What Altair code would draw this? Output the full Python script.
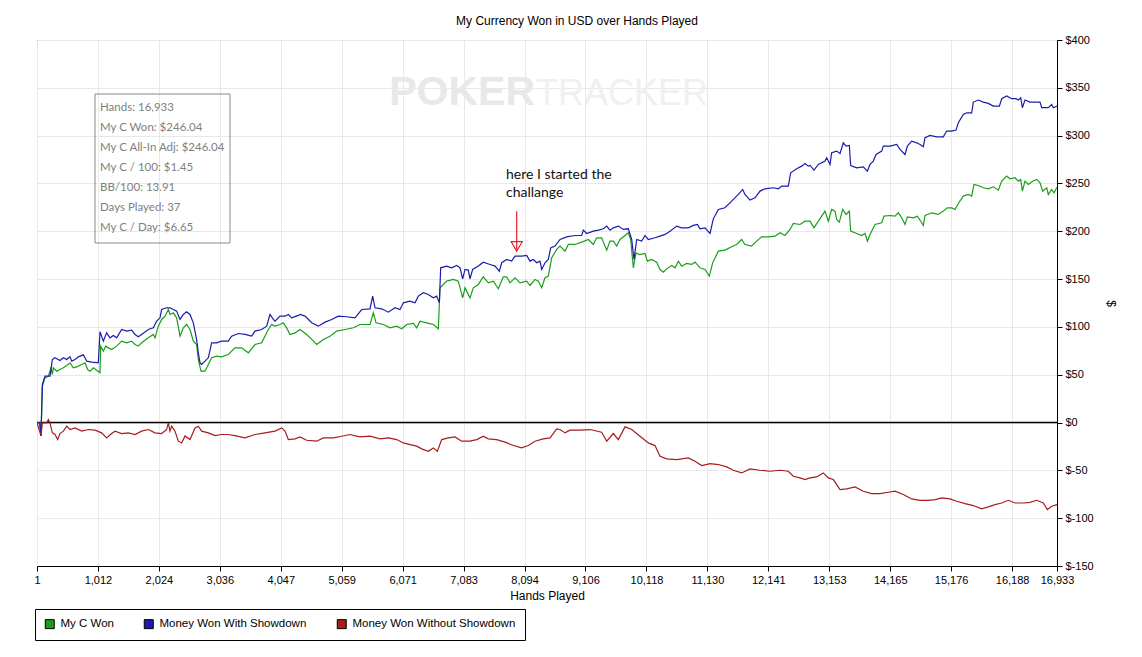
import altair as alt
import pandas as pd

FONT = "Liberation Sans"

# ---------------- data ----------------
series_names = ["My C Won", "Money Won With Showdown", "Money Won Without Showdown"]
series_colors = ["#1a9e1a", "#1c1caa", "#a81c1c"]

green_hands = [1, 45, 67, 90, 134, 189, 233, 256, 272, 328, 383, 438, 494, 549, 604, 660, 743, 798, 842, 881, 936, 1047, 1058, 1102, 1141, 1185, 1240, 1323, 1406, 1489, 1572, 1628, 1683, 1738, 1849, 1932, 1960, 2015, 2070, 2126, 2181, 2209, 2264, 2319, 2375, 2430, 2485, 2541, 2596, 2651, 2679, 2723, 2790, 2845, 2900, 2983, 3066, 3177, 3288, 3398, 3509, 3620, 3730, 3841, 3896, 3952, 4035, 4090, 4145, 4201, 4284,
               4367, 4478, 4561, 4644, 4754, 4865, 4976, 5114, 5252, 5363, 5529, 5584, 5629, 5750, 5861, 5972, 6055, 6138, 6248, 6304, 6359, 6470, 6580, 6663, 6691, 6802, 6913, 6995, 7067, 7106, 7189, 7244, 7327, 7410, 7493, 7576, 7659, 7742, 7798, 7853, 7936, 8019, 8130, 8185, 8268, 8323, 8379, 8434, 8489, 8545, 8628,
               8683, 8766, 8821, 8932, 9043, 9153, 9236, 9291, 9374, 9458, 9513, 9568, 9624, 9679, 9762, 9817, 9856, 9900, 9945, 10000, 10094, 10133, 10205, 10288, 10343, 10398, 10454, 10537, 10592, 10647, 10703, 10786, 10868, 10924, 11007, 11090, 11162, 11217, 11311, 11422, 11532, 11615, 11698, 11754, 11864, 11947, 12030, 12141, 12252, 12335, 12418, 12501, 12556, 12667, 12750,
               12833, 12899, 12971, 13082, 13137, 13193, 13248, 13276, 13320, 13375, 13431, 13486, 13508, 13608, 13691, 13746, 13785, 13829, 13912, 14023, 14061, 14161, 14244, 14299, 14355, 14410, 14449, 14549, 14615, 14687, 14714, 14742, 14853, 14963, 15046, 15113, 15185, 15240, 15295, 15378, 15461, 15517, 15555, 15627, 15710, 15793, 15876, 15959, 16015, 16098, 16153, 16236, 16291, 16330, 16358, 16402, 16457, 16529, 16596, 16651, 16695, 16762, 16789, 16844, 16883, 16933]
green_values = [0, 0, -14, 38, 46.7, 48.5, 57.2, 50.2, 57.2, 53.7, 55.4, 57.2, 59.6, 62.4, 57.2, 58.2, 60.7, 62.4, 55.4, 53.7, 57.2, 52.0, 79.9, 74.6, 79.9, 78.1, 76.4, 79.9, 85.1, 83.4, 85.1, 81.6, 79.9, 83.4, 88.6, 92.1, 88.6, 100.8, 107.8, 111.2, 118.2, 113.0, 114.7, 109.5, 90.3, 99.0, 102.5, 97.3, 85.1, 81.6, 65.9, 53.7, 53.7, 60.7, 67.7, 69.4, 68.7, 71.1, 78.1, 78.1, 72.9, 81.6, 83.4, 97.3, 102.5, 100.8, 102.5, 104.3, 99.0, 92.1, 93.8,
                97.3, 92.1, 86.9, 81.6, 86.9, 90.3, 95.6, 97.3, 99.1, 102.5, 102.5, 114.7, 104.3, 102.5, 99.1, 100.8, 98.0, 102.5, 103.6, 99.1, 106.0, 104.3, 102.5, 98.0, 140.9, 147.9, 149.6, 147.9, 130.4, 140.9, 130.4, 140.9, 144.4, 152.4, 146.1, 147.9, 139.9, 152.4, 152.4, 146.1, 151.4, 146.1, 147.9, 143.3, 149.6, 147.9, 140.9, 151.4, 153.1, 172.3, 181.0,
                184.5, 179.2, 186.2, 186.2, 188.6, 191.4, 186.2, 193.2, 193.2, 180.3, 189.7, 189.7, 184.5, 191.4, 195.6, 198.4, 191.4, 161.8, 177.5, 175.7, 176.8, 168.8, 170.5, 167.7, 160.0, 157.3, 160.7, 164.2, 161.8, 168.8, 163.5, 166.3, 165.3, 167.7, 161.8, 160.0, 153.1, 167.0, 179.2, 180.3, 183.8, 186.2, 191.4, 186.2, 184.5, 189.7, 194.2, 194.2, 194.9, 198.4, 195.6, 201.9, 208.2, 207.1, 210.6,
                210.6, 203.6, 210.6, 221.1, 210.6, 222.8, 221.1, 212.3, 209.6, 222.8, 217.6, 221.1, 200.1, 197.7, 195.6, 197.7, 189.7, 196.7, 207.1, 208.9, 215.8, 216.5, 215.8, 219.3, 214.1, 207.1, 215.1, 214.1, 215.8, 208.9, 206.1, 216.5, 219.3, 217.6, 221.1, 224.5, 224.5, 222.8, 229.1, 236.8, 238.5, 236.8, 249.0, 247.9, 245.5, 244.4, 246.5, 243.0, 252.4, 257.7, 254.9, 256.0, 252.4, 254.2, 242.0, 252.4, 249.0, 252.4, 254.2, 250.7, 242.0, 245.5, 238.5, 243.7, 240.2, 246.0]

blue_hands = [1, 45, 67, 90, 134, 217, 256, 300, 383, 438, 494, 549, 577, 632, 687, 770, 798, 826, 909, 1019, 1047, 1102, 1157, 1213, 1268, 1323, 1406, 1489, 1572, 1628, 1683, 1738, 1849, 1932, 1987, 2043, 2070, 2153, 2209, 2264, 2319, 2375, 2430, 2485, 2541, 2596, 2651, 2679, 2707, 2734, 2790, 2845, 2900, 2983, 3066, 3177, 3232, 3343, 3454, 3564, 3620, 3730, 3813, 3869, 3924, 3952, 4035, 4118, 4173, 4229, 4339,
              4367, 4450, 4561, 4671, 4782, 4893, 5003, 5142, 5280, 5391, 5529, 5573, 5612, 5723, 5833, 5944, 6027, 6082, 6193, 6276, 6331, 6414, 6497, 6580, 6636, 6680, 6702, 6802, 6885, 6968, 7023, 7067, 7106, 7161, 7189, 7233, 7327, 7410, 7521, 7604, 7676, 7715, 7798, 7880, 7936, 8047, 8130, 8185, 8240, 8296, 8351, 8379, 8434, 8489, 8528, 8600,
              8683, 8794, 8932, 9043, 9070, 9126, 9236, 9319, 9402, 9458, 9513, 9568, 9651, 9734, 9817, 9873, 9911, 9956, 10039, 10094, 10149, 10260, 10343, 10426, 10509, 10620, 10703, 10813, 10896, 10963, 11007, 11090, 11173, 11228, 11311, 11422, 11532, 11643, 11715, 11754, 11837, 11920, 12003, 12086, 12224, 12307, 12363, 12473, 12512, 12612, 12695, 12750, 12805,
              12833, 12899, 12971, 13082, 13110, 13165, 13193, 13276, 13331, 13386, 13431, 13486, 13508, 13608, 13718, 13785, 13829, 13884, 13929, 14023, 14050, 14161, 14272, 14327, 14410, 14449, 14521, 14604, 14659, 14714, 14742, 14825, 14936, 15046, 15102, 15185, 15257, 15295, 15378, 15434, 15517, 15544, 15627, 15710, 15793, 15876, 15976, 16015, 16098, 16181, 16252, 16291, 16330, 16358, 16402, 16485, 16596, 16651, 16679, 16789, 16844, 16872, 16933]
blue_values = [0, 0, -14, 40, 48.5, 48.5, 65.9, 67.7, 64.9, 67.7, 65.9, 68.7, 64.2, 65.9, 68.7, 70.8, 67.7, 64.2, 63.1, 62.4, 94.9, 85.1, 93.8, 88.6, 91.0, 88.6, 97.3, 95.6, 96.6, 92.1, 89.6, 92.1, 97.3, 99.0, 106.0, 109.5, 118.2, 120.0, 120.0, 118.2, 116.5, 107.8, 113.0, 115.8, 113.0, 104.3, 86.8, 72.9, 62.4, 60.7, 64.2, 67.7, 83.4, 83.4, 85.1, 85.1, 90.3, 93.1, 92.1, 90.3, 95.6, 97.3, 100.8, 113.0, 107.8, 106.0, 111.2, 111.2, 113.0, 109.5, 112.0,
               113.0, 111.3, 104.3, 100.8, 105.0, 107.8, 111.3, 110.6, 109.5, 118.2, 118.9, 132.2, 120.0, 118.9, 115.4, 120.0, 118.2, 125.2, 126.9, 125.2, 132.2, 135.7, 133.9, 130.4, 132.2, 125.2, 161.8, 163.6, 161.8, 164.3, 161.8, 150.3, 160.1, 159.4, 150.3, 160.1, 163.6, 167.7, 165.3, 163.6, 158.3, 167.1, 170.5, 168.8, 174.0, 174.0, 174.7, 168.8, 170.5, 167.1, 168.8, 160.1, 167.1, 170.5, 182.7, 184.5,
               191.4, 194.2, 195.6, 195.6, 201.2, 197.7, 200.1, 201.2, 202.6, 205.4, 201.2, 203.6, 205.4, 201.9, 202.6, 191.4, 170.5, 191.4, 189.7, 195.6, 191.4, 193.2, 194.9, 196.7, 200.1, 205.4, 203.6, 203.6, 206.1, 207.1, 202.6, 203.6, 197.7, 213.0, 222.8, 224.6, 231.5, 238.5, 243.7, 238.5, 232.6, 235.0, 242.0, 244.4, 245.5, 244.4, 247.2, 247.2, 261.2, 265.4, 268.1, 270.9, 268.1,
               268.8, 264.0, 269.9, 273.4, 276.9, 269.9, 282.1, 283.8, 281.4, 292.5, 289.1, 289.8, 268.8, 266.4, 267.4, 262.9, 269.9, 273.4, 280.3, 283.8, 289.1, 289.1, 290.8, 285.6, 280.3, 289.1, 294.3, 292.5, 290.8, 288.4, 297.8, 300.2, 298.8, 298.8, 304.8, 304.8, 305.8, 313.5, 322.2, 323.9, 323.9, 335.1, 337.2, 335.1, 333.7, 330.9, 330.9, 338.6, 341.4, 338.6, 338.6, 337.2, 339.6, 329.2, 337.2, 335.1, 335.1, 335.1, 329.2, 329.2, 332.6, 329.2, 330.9]

red_hands = [1, 67, 90, 161, 189, 217, 256, 300, 344, 383, 438, 494, 549, 632, 743, 853, 964, 1074, 1157, 1240, 1296, 1406, 1517, 1628, 1738, 1849, 1960, 2070, 2153, 2181, 2209, 2236, 2292, 2347, 2402, 2458, 2541, 2624, 2679, 2734, 2845, 2956, 3066, 3177, 3288, 3454, 3620, 3786, 3952, 4063, 4118, 4173, 4284,
             4367, 4478, 4644, 4754, 4920, 5059, 5197, 5363, 5529, 5695, 5833, 5972, 6082, 6193, 6304, 6387, 6497, 6580, 6647, 6719, 6829, 6940, 7050, 7189, 7300, 7410, 7493, 7631, 7770, 7908, 8047, 8157, 8268, 8406, 8517, 8628,
             8683, 8766, 8849, 9015, 9181, 9374, 9458, 9568, 9651, 9762, 9873, 10011, 10149, 10260, 10343, 10454, 10620, 10813, 10924, 11035, 11173, 11311, 11450, 11560, 11698, 11837, 12003, 12169, 12335, 12473, 12556, 12667, 12750,
             12833, 12944, 13054, 13137, 13220, 13331, 13442, 13580, 13718, 13857, 13995, 14133, 14244, 14382, 14521, 14659, 14797, 14908, 15019, 15157, 15268, 15406, 15544, 15682, 15793, 15904, 16015, 16125, 16236, 16374, 16485, 16596, 16706, 16773, 16844, 16933]
red_values = [0, -14, -0.4, -0.4, 3, -0.4, -10.8, -12.5, -17.8, -11.5, -9, -3.8, -7.3, -5.6, -9, -7.3, -8, -10.8, -16, -11.5, -9, -11.5, -10.8, -12.5, -9, -7.3, -10.8, -11.5, -7.3, -0.4, -9, -3.8, -9, -19.5, -21.3, -14, -17.8, -5.6, -3.8, -9, -10.8, -13.6, -12.5, -12.5, -13.6, -16, -12.5, -10.8, -9, -5.6, -9, -17.8, -17.1,
              -15.0, -18.5, -19.5, -16.0, -16.0, -14.3, -12.5, -15.0, -14.3, -17.1, -16.0, -17.8, -21.3, -23.0, -24.7, -27.5, -30.0, -26.5, -30.0, -17.8, -16.0, -15.0, -19.5, -19.5, -17.8, -14.3, -17.1, -17.8, -20.5, -24.0, -26.5, -24.0, -19.5, -17.1, -16.0, -6.6,
              -7.3, -10.8, -8.0, -8.0, -7.3, -10.1, -19.5, -11.5, -17.8, -4.5, -7.3, -14.3, -21.3, -24.1, -35.2, -38.0, -38.7, -37.0, -40.4, -45.0, -42.9, -43.9, -46.4, -49.9, -52.7, -48.5, -49.9, -50.9, -49.9, -50.9, -56.2, -57.9, -59.6,
              -57.9, -56.9, -52.7, -57.9, -59.6, -70.1, -69.4, -67.3, -71.8, -74.3, -74.3, -72.9, -71.8, -75.3, -79.9, -81.3, -81.3, -80.6, -78.8, -79.9, -82.3, -84.8, -86.8, -90.3, -88.2, -85.8, -84.1, -81.3, -84.1, -84.1, -83.4, -81.3, -84.1, -91.0, -87.5, -85.8]

x_tick_values = [1, 1012, 2024, 3036, 4047, 5059, 6071, 7083, 8094, 9106, 10118, 11130, 12141, 13153, 14165, 15176, 16188, 16933]
y_tick_values = [-150, -100, -50, 0, 50, 100, 150, 200, 250, 300, 350, 400]

chart_title = "My Currency Won in USD over Hands Played"
x_title = "Hands Played"
y_title = "$"

stats_lines = ["Hands: 16,933", "My C Won: $246.04", "My C All-In Adj: $246.04", "My C / 100: $1.45",
               "BB/100: 13.91", "Days Played: 37", "My C / Day: $6.65"]

note_lines = ["here I started the", "challange"]
note_hands = [7786, 7786]
note_values = [258.4, 239.5]
arrow_hands = 7964
arrow_top = 221.0
arrow_tip = 180.0
arrow_head = 184.1

# ---------------- tables ----------------
series_data = [(series_names[0], series_colors[0], green_hands, green_values),
               (series_names[1], series_colors[1], blue_hands, blue_values),
               (series_names[2], series_colors[2], red_hands, red_values)]
rows = []
for name, _, hs, vs in series_data:
    for h, v in zip(hs, vs):
        rows.append({"series": name, "hands": h, "value": v})
df = pd.DataFrame(rows)

x_enc = alt.X("hands:Q",
              scale=alt.Scale(domain=[1, 16933], nice=False, zero=False),
              axis=alt.Axis(values=x_tick_values, format=",d", title=x_title, labelOverlap=False,
                            labelFlush=False, tickSize=5, labelPadding=3, titlePadding=5,
                            grid=True, gridColor="#e8e8e8"))
y_enc = alt.Y("value:Q",
              scale=alt.Scale(domain=[-150, 400], nice=False, zero=False),
              axis=alt.Axis(orient="right", values=y_tick_values, labelExpr="'$' + datum.value",
                            title=y_title, titleAngle=90, titlePadding=10, tickSize=5, labelPadding=3,
                            labelOverlap=False, labelFlush=False, grid=True, gridColor="#e8e8e8"))

line_layers = []
for name, col, _, _ in series_data:
    line_layers.append(
        alt.Chart(df[df["series"] == name]).mark_line(strokeWidth=1.2, color=col, clip=True).encode(
            x=x_enc, y=y_enc)
    )

legend_layer = alt.Chart(df).mark_square(opacity=0, size=1).encode(
    x=x_enc, y=y_enc,
    fill=alt.Fill("series:N", scale=alt.Scale(domain=series_names, range=series_colors),
                  legend=alt.Legend(title=None, orient="none", legendX=-2, legendY=569,
                                    direction="horizontal", symbolType="square", symbolSize=81,
                                    symbolStrokeColor="black", symbolStrokeWidth=1, symbolOpacity=1,
                                    strokeColor="black", fillColor="white", padding=9,
                                    labelFont=FONT, labelFontSize=11.5, labelColor="black",
                                    labelOffset=5, columnPadding=28, labelLimit=400)),
)

zero_df = pd.DataFrame({"value": [0]})
zero_line = alt.Chart(zero_df).mark_rule(color="black", strokeWidth=1.6).encode(y=y_enc)

note_df = pd.DataFrame({"hands": note_hands, "value": note_values, "text": note_lines})
note = alt.Chart(note_df).mark_text(align="left", baseline="middle", font="Lato", fontSize=14,
                                    color="#111111").encode(x=x_enc, y=y_enc, text="text:N")

arrow_df = pd.DataFrame({"hands": [arrow_hands], "value": [arrow_top], "value2": [arrow_tip]})
arrow = alt.Chart(arrow_df).mark_rule(color="#e8202a", strokeWidth=1.2).encode(
    x=x_enc, y=y_enc, y2="value2:Q")
head_df = pd.DataFrame({"hands": [arrow_hands], "value": [arrow_head]})
head = alt.Chart(head_df).mark_point(shape="triangle-down", filled=False, color="#e8202a",
                                     size=121, strokeWidth=1.2, opacity=1).encode(x=x_enc, y=y_enc)

one = pd.DataFrame({"k": [0]})
stats_box = alt.Chart(one).mark_rect(filled=False, stroke="#8a8a8a", strokeWidth=1).encode(
    x=alt.value(58), x2=alt.value(193), y=alt.value(54), y2=alt.value(203))
stats_text = alt.Chart(one).mark_text(align="left", baseline="top", font="Lato", fontSize=11.5,
                                      color="#808080", lineBreak="\n", lineHeight=20).encode(
    x=alt.value(63), y=alt.value(62), text=alt.value("\n".join(stats_lines)))

wm1 = alt.Chart(one).mark_text(align="right", baseline="alphabetic", font=FONT, fontWeight="bold",
                               fontSize=41, color="#e8e8e8").encode(
    x=alt.value(498), y=alt.value(65), text=alt.value("POKER"))
wm2 = alt.Chart(one).mark_text(align="left", baseline="alphabetic", font=FONT, fontSize=36,
                               color="#f0f0f0").encode(
    x=alt.value(499), y=alt.value(65), text=alt.value("TRACKER"))

title = alt.Chart(one).mark_text(align="center", baseline="middle", font=FONT, fontSize=12,
                                 color="black").encode(
    x=alt.value(540), y=alt.value(-19), text=alt.value(chart_title))

chart = alt.layer(wm1, wm2, stats_box, stats_text, zero_line, *line_layers, legend_layer,
                  arrow, head, note, title).properties(
    width=1020, height=526,
    autosize=alt.AutoSizeParams(type="none"),
    padding={"left": 29, "top": 32, "right": 77, "bottom": 75},
    background="white",
).configure_view(
    stroke="black", strokeWidth=1
).configure_axis(
    domainColor="black", tickColor="black", labelColor="black", titleColor="black",
    labelFont=FONT, titleFont=FONT, labelFontSize=11, titleFontSize=12, titleFontWeight="normal",
)

chart.save("out.html", embed_options={"renderer": "svg", "actions": False})
